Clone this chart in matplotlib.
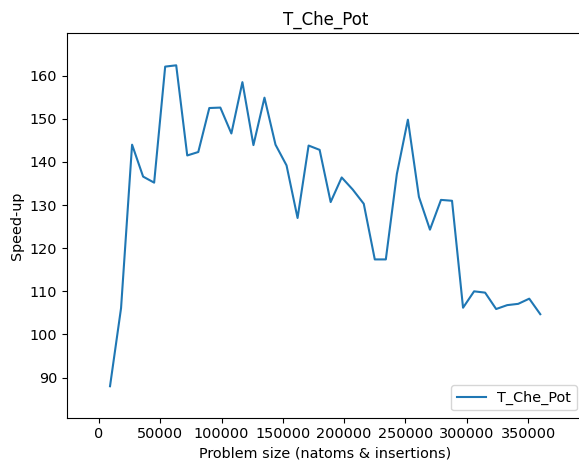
import matplotlib
matplotlib.use("Agg")
import matplotlib.pyplot as plt

# Problem sizes (natoms & insertions) and measured speed-ups
sizes = [9000 * k for k in range(1, 41)]
speedup = [
    88.0, 106.1, 144.0, 136.6, 135.2, 162.1, 162.4, 141.5, 142.3, 152.5,
    152.6, 146.6, 158.5, 143.9, 154.9, 144.0, 139.2, 127.0, 143.8, 142.8,
    130.7, 136.4, 133.6, 130.3, 117.4, 117.4, 137.2, 149.8, 131.9, 124.3,
    131.2, 131.0, 106.2, 110.0, 109.7, 105.9, 106.8, 107.1, 108.3, 104.7,
]
label = "T_Che_Pot"

plt.rcParams["font.size"] = 10.4

fig = plt.figure(figsize=(5.79, 4.63), dpi=100)
ax = fig.add_axes([0.1157, 0.0978, 0.893, 0.831])

ax.plot(sizes, speedup, label=label)
ax.set_xlim(-26100, 395700)
ax.set_ylim(80.7, 169.9)
ax.set_title(label, fontsize=12)
ax.set_xlabel("Problem size (natoms & insertions)")
ax.set_ylabel("Speed-up")
ax.legend(loc="lower right")

fig.savefig("out.png", dpi=100)
